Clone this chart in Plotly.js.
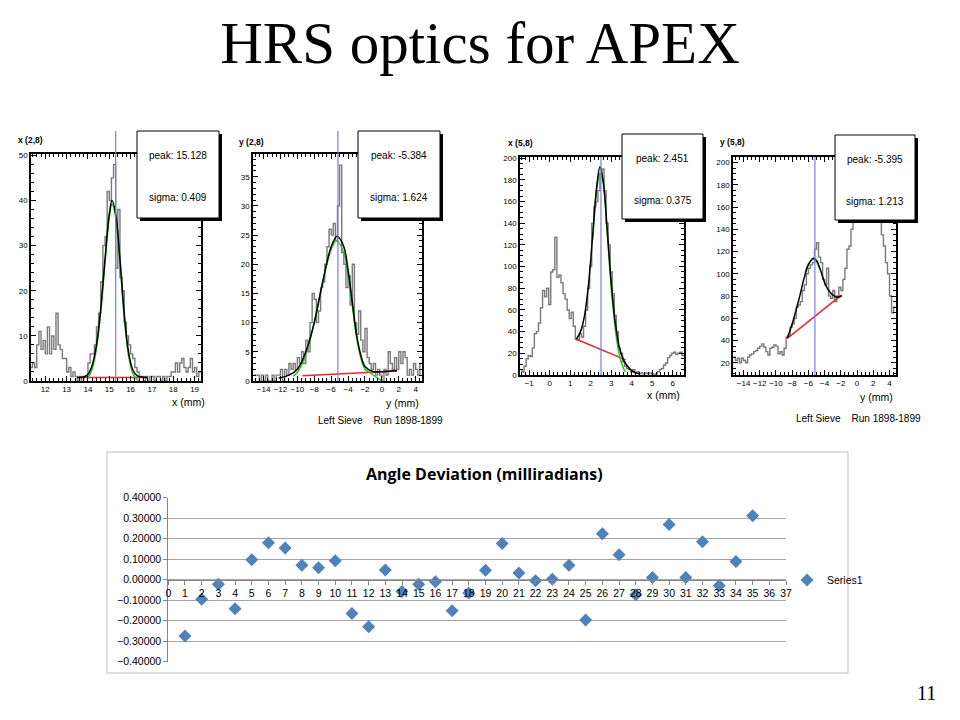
<!DOCTYPE html>
<html><head><meta charset="utf-8">
<script src="https://cdn.plot.ly/plotly-3.0.1.min.js"></script>
<style>html,body{margin:0;padding:0;background:#fff;}#chart{width:960px;height:720px;}</style>
</head><body><div id="chart"></div>
<script>
// ---------------- DATA ----------------
const slideTitle = 'HRS optics for APEX';
const slideNumber = '11';

// Panel labels and fit results
const panelNames = ['x (2,8)', 'y (2,8)', 'x (5,8)', 'y (5,8)'];
const axisNames = ['x (mm)', 'y (mm)', 'x (mm)', 'y (mm)'];
const peakText = ['15.128', '-5.384', '2.451', '-5.395'];
const sigmaText = ['0.409', '1.624', '0.375', '1.213'];
const peakMarker = [15.3, -5.2, 2.5, -5.2];
const runNote = 'Left Sieve&nbsp;&nbsp;&nbsp;&nbsp;Run 1898-1899';

// Histogram 1: x (2,8)
const h1Start = 11.3, h1Width = 0.1;
const h1Counts = [3,4,3,8,11,7,9,6,12,6,10,7,15,8,7,5,5,2,3,1,2,1,0,1,0,1,1,4,6,6,
  8,12,15,22,30,32,42,40,45,48,25,38,23,20,13,10,8,6,5,3,2,1,1,0,1,0,1,1,0,1,
  1,0,1,0,1,1,2,2,4,2,4,5,3,2,3,5,2,3,1,2];
const f1X = [13.5,13.8,14.0,14.2,14.4,14.6,14.8,15.0,15.13,15.3,15.5,15.7,15.9,16.1,16.3,16.5,16.8];
const f1Y = [0.8,0.9,1.5,3.5,8,16,27,37,40,37,27,15,6.5,2.5,1.2,0.9,0.8];
const g1X = [14.0,14.2,14.4,14.6,14.8,15.0,15.13,15.3,15.5,15.7,15.9,16.1,16.3,16.4];
const g1Y = [0.5,2.7,7.2,15.2,26.2,36.2,39.2,36.2,26.2,14.2,5.7,1.7,0.4,0];
const b1X = [13.5,16.8];
const b1Y = [0.8,0.8];

// Histogram 2: y (2,8)
const h2Start = -15.25, h2Width = 0.25;
const h2Counts = [1,1,1,0,1,0,1,0,0,1,0,1,1,2,0,2,1,3,2,3,2,4,3,5,3,7,5,10,15,14,
  10,12,16,17,20,23,26,25,27,24,30,37,22,20,16,18,13,20,10,8,12,7,5,9,4,3,2,3,1,2,
  1,0,2,1,5,3,2,4,2,5,3,5,4,1,2,1,3,2,1,3];
const f2X = [-12.2,-11,-10,-9,-8,-7,-6,-5.3,-4.5,-4,-3.5,-3,-2.5,-2,-1,0,1,1.8];
const f2Y = [0.5,1,2,5,10,17,23,24.8,23,19,13.5,8,4.5,2.5,1.6,1.6,1.7,1.8];
const g2X = [-10.5,-10,-9,-8,-7,-6,-5.4,-4.5,-4,-3.5,-3,-2.5,-2,-1.5,-1,-0.5,0];
const g2Y = [0.8,1.5,4.5,10,17,22.5,24,22,18,13,7.5,4,2,1.5,1,0.5,0];
const b2X = [-9.4,1.8];
const b2Y = [0.9,1.7];

// Histogram 3: x (5,8)
const h3Start = -1.45, h3Width = 0.1;
const h3Counts = [5,3,8,15,18,17,25,38,40,48,62,78,72,80,65,95,97,127,90,92,
  85,75,70,60,52,58,45,33,32,38,35,45,60,80,100,140,155,160,170,185,
  190,170,140,120,95,75,55,40,25,20,12,8,6,5,3,5,2,3,1,2,
  1,2,1,2,1,0,1,3,5,6,9,11,16,18,20,21,19,20,21,18];
const f3X = [1.3,1.5,1.7,1.9,2.1,2.3,2.45,2.6,2.8,3.0,3.2,3.4,3.6,3.8,4.0,4.2,4.4];
const f3Y = [33,40,55,85,130,175,192,180,135,85,48,25,14,8,4,2,1];
const g3X = [2.1,2.3,2.45,2.6,2.8,3.0,3.2,3.4,3.6,3.7];
const g3Y = [125,172,186,178,132,80,42,18,6,3];
const b3X = [1.3,3.7];
const b3Y = [33,14];

// Histogram 4: y (5,8)
const h4Start = -15.25, h4Width = 0.25;
const h4Counts = [25,22,24,20,24,22,20,25,27,28,30,31,33,35,37,34,30,27,33,34,
  36,35,28,30,27,33,43,45,52,55,60,70,72,75,85,90,100,105,108,110,
  122,128,115,110,95,90,105,80,78,85,75,80,88,85,95,105,122,125,140,150,
  160,170,180,185,190,195,188,190,180,160,150,147,155,135,125,110,100,80,65,70];
const f4X = [-8.6,-8,-7.5,-7,-6.5,-6,-5.4,-5,-4.5,-4,-3.5,-3,-2.5,-1.9];
const f4Y = [42,55,68,82,97,108,114,112,103,92,85,81,79,80];
const g4X = [-6.4,-6,-5.4,-5,-4.6];
const g4Y = [101,109,113,111,104];
const b4X = [-8.6,-1.9];
const b4Y = [42,81];

// Angle deviation scatter
const chartTitle = 'Angle Deviation (milliradians)';
const seriesName = 'Series1';
const pointIndex = [1,2,3,4,5,6,7,8,9,10,11,12,13,14,15,16,17,18,19,20,21,22,23,24,25,26,27,28,29,30,31,32,33,34,35];
const angleDev = [-0.275,-0.095,-0.022,-0.142,0.097,0.180,0.155,0.070,0.058,0.092,
  -0.165,-0.230,0.047,-0.058,-0.022,-0.010,-0.151,-0.065,0.046,0.177,
  0.033,-0.005,0.002,0.070,-0.197,0.224,0.122,-0.073,0.011,0.270,
  0.011,0.185,-0.028,0.089,0.312];

// ---------------- LAYOUT HELPERS ----------------
const W = 960, H = 720;
const px = x => x / W;
const py = y => 1 - y / H;
const FONT = 'Liberation Sans, Arial, sans-serif';

// panel frames in pixels [left, top, right, bottom]
const frames = [[31,154,201,381],[253,154,422,381],[520,157,684,375],[733,157,896,375]];
const ranges = [
  {x:[11.33,19.3], y:[0,50.3], xd:1, xm:0.2, yd:10, ym:2},
  {x:[-15.25,4.75], y:[0,38.9], xd:2, xm:0.5, yd:5, ym:1},
  {x:[-1.45,6.55], y:[0,201], xd:1, xm:0.2, yd:20, ym:5},
  {x:[-15.3,4.8], y:[9,205], xd:2, xm:0.5, yd:20, ym:5}
];
const statBoxes = [[137,131,219,218],[358,131,440,218],[622,134,703,219],[835,135,915,220]];
const blueTop = [131,131,157,157];
const labelPos = [[16,140],[237,142],[506,143],[718,142]];
const axisTitlePos = [[207,402],[421,403],[682,395],[895,397]];

function edges(start, width, n) { const e = []; for (let i = 0; i <= n; i++) e.push(+(start + i * width).toFixed(4)); return e; }
function stepY(c) { return c.concat([c[c.length - 1]]); }

const hists = [
  {s:h1Start,w:h1Width,c:h1Counts,fx:f1X,fy:f1Y,gx:g1X,gy:g1Y,bx:b1X,by:b1Y},
  {s:h2Start,w:h2Width,c:h2Counts,fx:f2X,fy:f2Y,gx:g2X,gy:g2Y,bx:b2X,by:b2Y},
  {s:h3Start,w:h3Width,c:h3Counts,fx:f3X,fy:f3Y,gx:g3X,gy:g3Y,bx:b3X,by:b3Y},
  {s:h4Start,w:h4Width,c:h4Counts,fx:f4X,fy:f4Y,gx:g4X,gy:g4Y,bx:b4X,by:b4Y}
];

const traces = [];
const layout = {
  width: W, height: H,
  margin: {l:0, r:0, t:0, b:0},
  paper_bgcolor: '#fff', plot_bgcolor: 'rgba(0,0,0,0)',
  showlegend: true,
  title: {text: slideTitle, font: {family: 'Liberation Serif, Times New Roman, serif', size: 59, color: '#000'},
          x: 0.5, xanchor: 'center', y: py(42), yanchor: 'middle'},
  shapes: [], annotations: [],
  legend: {x: px(787), xanchor: 'left', y: py(580), yanchor: 'middle', bgcolor: 'rgba(0,0,0,0)',
           font: {family: FONT, size: 10.5, color: '#000'}, itemwidth: 30}
};

hists.forEach((h, i) => {
  const k = i + 1;
  const xa = 'x' + (k === 1 ? '' : k), ya = 'y' + (k === 1 ? '' : k);
  const f = frames[i], r = ranges[i];
  const ex = edges(h.s, h.w, h.c.length);
  traces.push({x: ex, y: stepY(h.c), xaxis: xa, yaxis: ya, type: 'scatter', mode: 'lines',
    line: {shape: 'hv', color: '#7a7a7a', width: 1.4}, showlegend: false, hoverinfo: 'skip'});
  traces.push({x: h.bx, y: h.by, xaxis: xa, yaxis: ya, type: 'scatter', mode: 'lines',
    line: {color: '#e8262b', width: 1.5}, showlegend: false, hoverinfo: 'skip'});
  traces.push({x: h.gx, y: h.gy, xaxis: xa, yaxis: ya, type: 'scatter', mode: 'lines',
    line: {shape: 'spline', color: '#2ec42e', width: 1.5}, showlegend: false, hoverinfo: 'skip'});
  traces.push({x: h.fx, y: h.fy, xaxis: xa, yaxis: ya, type: 'scatter', mode: 'lines',
    line: {shape: 'spline', color: '#000', width: 1.5}, showlegend: false, hoverinfo: 'skip'});

  const common = {ticks: 'inside', ticklen: 5, tickwidth: 1, tickcolor: '#000', mirror: 'allticks',
    showline: true, linecolor: '#000', linewidth: 1.8, showgrid: false, zeroline: false, fixedrange: true,
    tickfont: {family: FONT, size: 8, color: '#000'}, tick0: 0};
  layout['xaxis' + (k === 1 ? '' : k)] = Object.assign({}, common, {
    domain: [px(f[0]), px(f[2])], range: r.x, dtick: r.xd, anchor: ya,
    minor: {dtick: r.xm, tick0: 0, ticks: 'inside', ticklen: 3, tickcolor: '#000', showgrid: false}});
  layout['yaxis' + (k === 1 ? '' : k)] = Object.assign({}, common, {
    domain: [py(f[3]), py(f[1])], range: r.y, dtick: r.yd, anchor: xa,
    minor: {dtick: r.ym, tick0: 0, ticks: 'inside', ticklen: 3, tickcolor: '#000', showgrid: false}});

  // peak marker line
  layout.shapes.push({type: 'line', xref: xa, yref: 'paper', x0: peakMarker[i], x1: peakMarker[i],
    y0: py(f[3]), y1: py(blueTop[i]), line: {color: '#7b7bf0', width: 1.2}, layer: 'above'});
  // stats box shadow + box
  const b = statBoxes[i];
  layout.shapes.push({type: 'rect', xref: 'paper', yref: 'paper', x0: px(b[0] + 3), x1: px(b[2] + 3),
    y0: py(b[3] + 3), y1: py(b[1] + 3), fillcolor: '#000', line: {width: 0}, layer: 'above'});
  layout.shapes.push({type: 'rect', xref: 'paper', yref: 'paper', x0: px(b[0]), x1: px(b[2]),
    y0: py(b[3]), y1: py(b[1]), fillcolor: '#fff', line: {color: '#000', width: 1}, layer: 'above'});
  const cx = px((b[0] + b[2]) / 2);
  layout.annotations.push({xref: 'paper', yref: 'paper', x: cx, y: py(b[1] + 24), text: 'peak: ' + peakText[i],
    showarrow: false, xanchor: 'center', yanchor: 'middle', font: {family: FONT, size: 10, color: '#000'}});
  layout.annotations.push({xref: 'paper', yref: 'paper', x: cx, y: py(b[1] + 66), text: 'sigma: ' + sigmaText[i],
    showarrow: false, xanchor: 'center', yanchor: 'middle', font: {family: FONT, size: 10, color: '#000'}});
  // panel name
  layout.annotations.push({xref: 'paper', yref: 'paper', x: px(labelPos[i][0]), y: py(labelPos[i][1]),
    text: '<b>' + panelNames[i] + '</b>', showarrow: false, xanchor: 'left', yanchor: 'middle',
    font: {family: FONT, size: 8.5, color: '#000'}});
  // axis title
  layout.annotations.push({xref: 'paper', yref: 'paper', x: px(axisTitlePos[i][0]), y: py(axisTitlePos[i][1]),
    text: axisNames[i], showarrow: false, xanchor: 'right', yanchor: 'middle',
    font: {family: FONT, size: 10.5, color: '#000'}});
});

// run notes under the y panels
layout.annotations.push({xref: 'paper', yref: 'paper', x: px(316), y: py(420), text: runNote, showarrow: false,
  xanchor: 'left', yanchor: 'middle', font: {family: FONT, size: 10, color: '#000'}});
layout.annotations.push({xref: 'paper', yref: 'paper', x: px(794), y: py(418), text: runNote, showarrow: false,
  xanchor: 'left', yanchor: 'middle', font: {family: FONT, size: 10, color: '#000'}});

// ---------------- SCATTER CHART ----------------
const sDomX = [px(168.3), px(786)];
const sDomY = [py(661.7), py(497.7)];
traces.push({x: pointIndex, y: angleDev, xaxis: 'x5', yaxis: 'y5', type: 'scatter', mode: 'markers',
  name: seriesName, marker: {symbol: 'diamond', size: 10, color: '#4f81bd', line: {width: 0}}, showlegend: true});

layout.xaxis5 = {domain: sDomX, range: [0, 37], dtick: 1, tick0: 0, anchor: 'free', position: (sDomY[0] + sDomY[1]) / 2,
  showline: true, linecolor: '#868686', linewidth: 1, ticks: 'outside', ticklen: 4, tickcolor: '#868686',
  showgrid: false, zeroline: false, fixedrange: true, tickfont: {family: FONT, size: 10.5, color: '#000'}};
layout.yaxis5 = {domain: sDomY, range: [-0.4002, 0.4002], dtick: 0.1, tick0: 0, tickformat: '.5f', anchor: 'x5',
  showline: true, linecolor: '#868686', linewidth: 1, ticks: 'outside', ticklen: 4, tickcolor: '#868686',
  showgrid: true, gridcolor: '#a5a5a5', gridwidth: 1, zeroline: false, fixedrange: true,
  tickfont: {family: FONT, size: 10.5, color: '#000'}};

layout.shapes.push({type: 'rect', xref: 'paper', yref: 'paper', x0: px(107), x1: px(848), y0: py(673), y1: py(452),
  line: {color: '#bdbdbd', width: 1}, fillcolor: 'rgba(0,0,0,0)', layer: 'below'});
layout.annotations.push({xref: 'paper', yref: 'paper', x: px(484), y: py(474), text: '<b>' + chartTitle + '</b>',
  showarrow: false, xanchor: 'center', yanchor: 'middle', font: {family: 'Open Sans, sans-serif', size: 16, color: '#000'}});
layout.annotations.push({xref: 'paper', yref: 'paper', x: px(926), y: py(693), text: slideNumber, showarrow: false,
  xanchor: 'center', yanchor: 'middle', font: {family: 'Liberation Serif, Times New Roman, serif', size: 20, color: '#000'}});

Plotly.newPlot('chart', traces, layout, {staticPlot: true, displayModeBar: false});
</script>
</body></html>
